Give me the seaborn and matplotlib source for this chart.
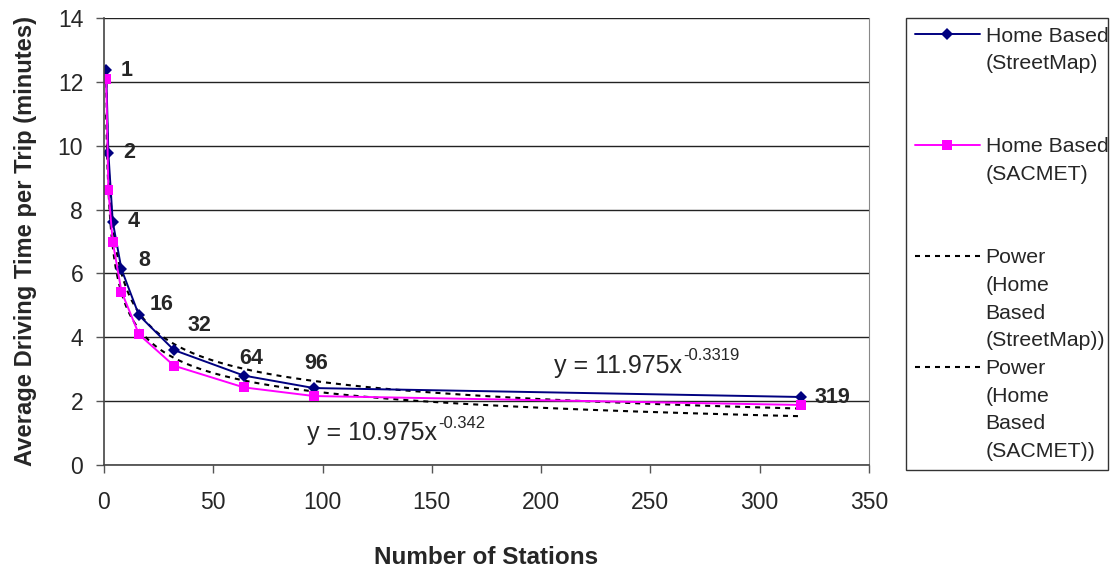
import numpy as np
import pandas as pd
import seaborn as sns
import matplotlib.pyplot as plt
from matplotlib.lines import Line2D

# values
stations = [1, 2, 4, 8, 16, 32, 64, 96, 319]
streetmap_time = [12.37, 9.78, 7.62, 6.13, 4.69, 3.60, 2.80, 2.41, 2.13]
sacmet_time = [12.08, 8.61, 6.99, 5.43, 4.09, 3.11, 2.43, 2.16, 1.88]
point_labels = ['1', '2', '4', '8', '16', '32', '64', '96', '319']

# power trend lines as printed on the chart: y = a * x^b
streetmap_fit = (11.975, -0.3319)
sacmet_fit = (10.975, -0.342)

navy = '#000080'
magenta = '#FF00FF'

sns.set_style('white')
plt.rcParams['font.family'] = ['Liberation Sans', 'DejaVu Sans']

df = pd.DataFrame({
    'stations': stations * 2,
    'time': streetmap_time + sacmet_time,
    'series': ['Home Based (StreetMap)'] * len(stations) + ['Home Based (SACMET)'] * len(stations),
})

fig = plt.figure(figsize=(11.14, 5.69), dpi=100)
ax = fig.add_axes([104 / 1114, 1 - 465 / 569, 765 / 1114, 447 / 569])

# trend lines first so the data lines sit on top
for a, b in [streetmap_fit, sacmet_fit]:
    xs = np.geomspace(stations[0], stations[-1], 300)
    trend = pd.DataFrame({'x': xs, 'y': a * xs ** b})
    sns.lineplot(data=trend, x='x', y='y', ax=ax, color='black', lw=1.5,
                 linestyle=(0, (2.4, 2.4)), legend=False)

sns.lineplot(data=df, x='stations', y='time', hue='series', style='series',
             palette={'Home Based (StreetMap)': navy, 'Home Based (SACMET)': magenta},
             markers={'Home Based (StreetMap)': 'D', 'Home Based (SACMET)': 's'},
             dashes=False, markersize=7, markeredgewidth=0, lw=1.4,
             ax=ax, legend=False)
for line in ax.lines[-2:]:
    if line.get_marker() == 'D':
        line.set_markersize(6.5)

# data labels
label_offsets = [(20, 0), (21, 0), (21, 0), (23, 9), (23, 11), (26, 25), (7, 17), (2, 25), (31, -1)]
for xv, yv, txt, off in zip(stations, streetmap_time, point_labels, label_offsets):
    ax.annotate(txt, (xv, yv), xytext=off, textcoords='offset pixels',
                ha='center', va='center', fontsize=15.5, fontweight='bold')

# trend equations, exponent as a separate raised text
eq1 = ax.text(206, 2.88, 'y = 11.975x', fontsize=18, ha='left', va='baseline')
ax.annotate('-0.3319', xy=(1, 0), xycoords=eq1, xytext=(1, 18),
            textcoords='offset pixels', fontsize=12, ha='left', va='baseline')
eq2 = ax.text(93, 0.78, 'y = 10.975x', fontsize=18, ha='left', va='baseline')
ax.annotate('-0.342', xy=(1, 0), xycoords=eq2, xytext=(1, 17),
            textcoords='offset pixels', fontsize=12, ha='left', va='baseline')

ax.set_xlim(0, 350)
ax.set_ylim(0, 14)
ax.set_xticks(np.arange(0, 351, 50))
ax.set_yticks(np.arange(0, 15, 2))
ax.yaxis.grid(True, color='#222222', lw=1)
ax.xaxis.grid(False)
ax.tick_params(axis='both', labelsize=16.5, direction='out', length=6,
               width=1, color='#555555', left=True, bottom=True)
ax.tick_params(axis='x', pad=13)
ax.tick_params(axis='y', pad=9)
for side in ['left', 'bottom']:
    ax.spines[side].set_color('#444444')
    ax.spines[side].set_linewidth(1.2)
ax.spines['right'].set_color('#888888')
ax.spines['top'].set_visible(False)

ax.set_xlabel('Number of Stations', fontsize=17.5, fontweight='bold')
ax.set_ylabel('Average Driving Time per Trip (minutes)', fontsize=17.1, fontweight='bold')
ax.xaxis.set_label_coords(0.5, -0.206)
ax.xaxis.label.set_va('center')
ax.yaxis.set_label_coords(-0.103, 0.5)
ax.yaxis.label.set_va('center')

# legend, one row per text line so the spacing matches the reference
blank = Line2D([], [], linestyle='none')
h_sm = Line2D([], [], color=navy, marker='D', markersize=6.5, lw=1.4, markeredgewidth=0)
h_sac = Line2D([], [], color=magenta, marker='s', markersize=7, lw=1.4, markeredgewidth=0)
h_pow = Line2D([], [], color='black', lw=1.5, linestyle=(0, (2.4, 2.4)))
handles = [h_sm, blank, blank, blank, h_sac, blank, blank, blank,
           h_pow, blank, blank, blank, h_pow, blank, blank, blank]
labels = ['Home Based', '(StreetMap)', ' ', ' ', 'Home Based', '(SACMET)', ' ', ' ',
          'Power', '(Home', 'Based', '(StreetMap))', 'Power', '(Home', 'Based', '(SACMET))']
top = 1 - 18 / 569
leg = fig.legend(handles, labels, loc='upper left',
                 bbox_to_anchor=(906 / 1114, top - 0.5, 202 / 1114, 0.5),
                 mode='expand', borderaxespad=0, fontsize=15.3, frameon=True,
                 fancybox=False, edgecolor='black', handlelength=3.1,
                 handletextpad=0.25, labelspacing=0.41, borderpad=0.4)
leg.get_frame().set_linewidth(1)

fig.savefig('out.png', dpi=100)
